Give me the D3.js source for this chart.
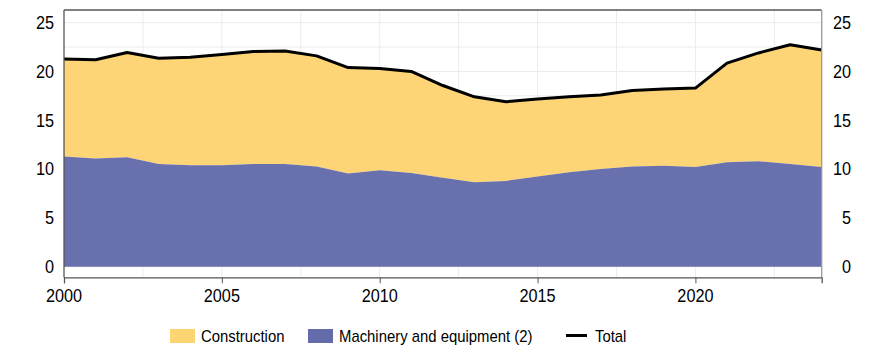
<!DOCTYPE html>
<html><head><meta charset="utf-8">
<script src="https://cdn.jsdelivr.net/npm/d3@7"></script>
<style>body{margin:0;background:#fff}svg text{font-family:"Liberation Sans",Arial,sans-serif;fill:#000}</style>
</head><body><svg id="c" width="873" height="354"></svg>
<script>
const years = d3.range(2000, 2025);
const machinery = [11.28,11.08,11.22,10.53,10.4,10.4,10.53,10.53,10.26,9.54,9.89,9.61,9.1,8.66,8.79,9.23,9.68,10.0,10.26,10.33,10.22,10.7,10.8,10.53,10.22];
const construction = [9.99,10.12,10.73,10.82,11.07,11.35,11.52,11.57,11.34,10.86,10.41,10.39,9.46,8.74,8.11,7.94,7.72,7.6,7.79,7.87,8.08,10.16,11.1,12.21,11.98];
const yTicks = [0,5,10,15,20,25];
const xTicks = [2000,2005,2010,2015,2020];
const seriesNames = ["Construction","Machinery and equipment (2)","Total"];
const colors = {construction:"#fdd472", machinery:"#636baa", total:"#000"};

const data = years.map((yr,i)=>({year:yr, m:machinery[i], c:construction[i], t:machinery[i]+construction[i]}));
const svg = d3.select("#c");
const L=64, R=821.7, T=10, B=277.3;
const x = d3.scaleLinear().domain([2000,2024]).range([L,R]);
const y = d3.scaleLinear().domain([-1.09,26.3]).range([B,T]);
const SX = 0.93;
function txt(parent, px, py, s, size, anchor){
  return parent.append("text").attr("transform",`translate(${px},${py}) scale(${SX},1)`)
    .attr("text-anchor",anchor||"start").attr("font-size",size).text(s);
}

// grid
const g = svg.append("g");
g.selectAll(".hg").data(d3.range(0,25.01,2.5)).join("line")
 .attr("x1",L).attr("x2",R).attr("y1",d=>y(d)).attr("y2",d=>y(d))
 .attr("stroke","#ebebeb").attr("stroke-width",1);
g.selectAll(".vg").data(d3.range(2002.5,2024,2.5)).join("line")
 .attr("y1",T).attr("y2",B).attr("x1",d=>x(d)).attr("x2",d=>x(d))
 .attr("stroke","#ebebeb").attr("stroke-width",1);

const areaC = d3.area().x(d=>x(d.year)).y0(d=>y(d.m)).y1(d=>y(d.t));
const areaM = d3.area().x(d=>x(d.year)).y0(y(0)).y1(d=>y(d.m));
svg.append("path").datum(data).attr("d",areaC).attr("fill",colors.construction).attr("fill-opacity",0.97);
svg.append("path").datum(data).attr("d",areaM).attr("fill",colors.machinery).attr("fill-opacity",0.97);
svg.append("path").datum(data).attr("d",d3.line().x(d=>x(d.year)).y(d=>y(d.t)))
 .attr("fill","none").attr("stroke",colors.total).attr("stroke-width",3).attr("stroke-linejoin","round");

// frame
svg.append("line").attr("x1",L).attr("x2",R).attr("y1",T).attr("y2",T).attr("stroke","#555").attr("stroke-width",1.3);
svg.append("line").attr("x1",L).attr("x2",L).attr("y1",T).attr("y2",B).attr("stroke","#555").attr("stroke-width",1.3);
svg.append("line").attr("x1",R).attr("x2",R).attr("y1",T).attr("y2",B).attr("stroke","#999").attr("stroke-width",1.3);

// x axis
const xa = svg.append("g").attr("transform",`translate(0,${B})`)
 .call(d3.axisBottom(x).tickValues(xTicks).tickFormat("").tickSize(6));
xa.select(".domain").attr("stroke","#555").attr("stroke-width",1.3);
xa.selectAll(".tick line").attr("stroke","#555");
xTicks.forEach(t=>txt(svg, x(t), 301.5, String(t), 17.5, "middle"));

// y labels
yTicks.forEach(t=>{
  txt(svg, 54, y(t)+6.3, String(t), 17.5, "end");
  txt(svg, 851, y(t)+6.3, String(t), 17.5, "end");
});

// legend
const lg = svg.append("g");
lg.append("rect").attr("x",170).attr("y",329).attr("width",25).attr("height",14).attr("fill",colors.construction);
txt(lg, 201, 342, seriesNames[0], 16);
lg.append("rect").attr("x",308).attr("y",329).attr("width",25).attr("height",14).attr("fill",colors.machinery);
txt(lg, 339, 342, seriesNames[1], 16);
lg.append("line").attr("x1",566).attr("x2",587).attr("y1",335.5).attr("y2",335.5).attr("stroke","#000").attr("stroke-width",3);
txt(lg, 595, 342, seriesNames[2], 16);
</script></body></html>
